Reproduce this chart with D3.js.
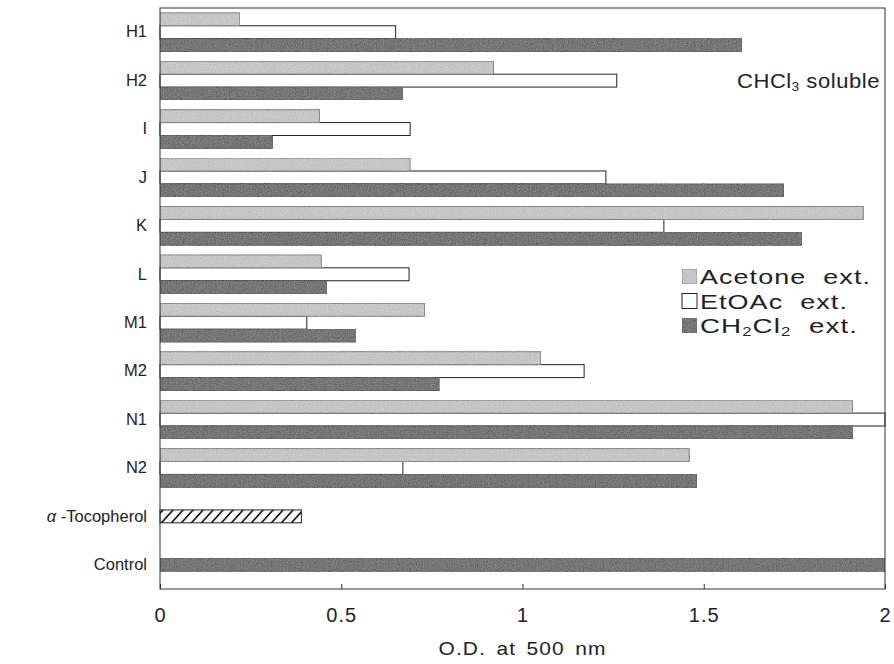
<!DOCTYPE html>
<html>
<head>
<meta charset="utf-8">
<script src="https://cdn.jsdelivr.net/npm/d3@7"></script>
<style>
  body { margin: 0; background: #fff; }
  svg { font-family: "Liberation Sans", Arial, sans-serif; }
</style>
</head>
<body>
<script>
// values (O.D. at 500 nm)
const samples = ["H1", "H2", "I", "J", "K", "L", "M1", "M2", "N1", "N2"];
const acetone = [0.22, 0.92, 0.44, 0.69, 1.94, 0.445, 0.73, 1.05, 1.91, 1.46];
const etoac   = [0.65, 1.26, 0.69, 1.23, 1.39, 0.687, 0.405, 1.17, 2.0, 0.67];
const ch2cl2  = [1.605, 0.67, 0.31, 1.72, 1.77, 0.46, 0.54, 0.77, 1.91, 1.48];
const refs = ["α-Tocopherol", "Control"];
const refValues = [0.39, 2.0];
const ticks = [0, 0.5, 1, 1.5, 2];

const W = 894, H = 664;
const margin = {top: 8, right: 9, bottom: 75, left: 160};
const width = W - margin.left - margin.right;
const height = H - margin.top - margin.bottom;

const svg = d3.select("body").append("svg")
    .attr("width", W)
    .attr("height", H);

const defs = svg.append("defs");

// grainy print texture
const grain = defs.append("filter").attr("id", "grain")
    .attr("x", 0).attr("y", 0).attr("width", 1).attr("height", 1);
grain.append("feTurbulence").attr("type", "fractalNoise")
    .attr("baseFrequency", 0.85).attr("numOctaves", 2).attr("seed", 3).attr("result", "n");
grain.append("feColorMatrix").attr("in", "n").attr("type", "matrix")
    .attr("values", "0.33 0.33 0.33 0 0  0.33 0.33 0.33 0 0  0.33 0.33 0.33 0 0  0 0 0 0 1")
    .attr("result", "g");
grain.append("feComposite").attr("in", "g").attr("in2", "SourceGraphic")
    .attr("operator", "arithmetic")
    .attr("k1", 0).attr("k2", 0.4).attr("k3", 1).attr("k4", -0.2).attr("result", "m");
grain.append("feComposite").attr("in", "m").attr("in2", "SourceGraphic").attr("operator", "in");

const hatch = defs.append("pattern").attr("id", "hatch")
    .attr("patternUnits", "userSpaceOnUse")
    .attr("width", 10).attr("height", 10)
    .attr("patternTransform", "skewX(-42)");
hatch.append("rect").attr("width", 10).attr("height", 10).attr("fill", "#fff");
hatch.append("line").attr("x1", 5).attr("x2", 5).attr("y1", 0).attr("y2", 10)
    .attr("stroke", "#111").attr("stroke-width", 2.2);

const g = svg.append("g").attr("transform", `translate(${margin.left},${margin.top})`);

const x = d3.scaleLinear().domain([0, 2]).range([0, width]);
const y = d3.scaleBand().domain(samples.concat(refs)).range([0, height])
    .paddingInner(0.2).paddingOuter(0.1);
const series = ["acetone", "etoac", "ch2cl2"];
const sub = d3.scaleBand().domain(series).range([0, y.bandwidth()]);

const styles = {
  acetone: {fill: "#c6c6c6", stroke: "#8a8a8a", filter: "url(#grain)"},
  etoac:   {fill: "#fff", stroke: "#222", filter: null},
  ch2cl2:  {fill: "#777", stroke: "#666", filter: "url(#grain)"}
};

const rows = samples.map((s, i) => ({
  name: s,
  acetone: acetone[i], etoac: etoac[i], ch2cl2: ch2cl2[i]
}));

// white EtOAc bars first so the grey bars sit over their shared edges
for (const key of ["etoac", "acetone", "ch2cl2"]) {
  g.append("g").selectAll("rect")
    .data(rows)
    .join("rect")
      .attr("x", x(0))
      .attr("y", d => y(d.name) + sub(key))
      .attr("width", d => x(d[key]) - x(0))
      .attr("height", sub.bandwidth())
      .attr("fill", styles[key].fill)
      .attr("stroke", styles[key].stroke)
      .attr("stroke-width", 1)
      .attr("filter", styles[key].filter);
}

// alpha-tocopherol (hatched) and control (dark)
g.append("g").selectAll("rect")
  .data(refs.map((r, i) => ({name: r, value: refValues[i]})))
  .join("rect")
    .attr("x", x(0))
    .attr("y", d => y(d.name) + sub("etoac"))
    .attr("width", d => x(d.value) - x(0))
    .attr("height", sub.bandwidth())
    .attr("fill", (d, i) => i === 0 ? "url(#hatch)" : styles.ch2cl2.fill)
    .attr("stroke", (d, i) => i === 0 ? "#222" : styles.ch2cl2.stroke)
    .attr("filter", (d, i) => i === 0 ? null : "url(#grain)");

// frame
g.append("rect")
    .attr("x", 0).attr("y", 0)
    .attr("width", width).attr("height", height)
    .attr("fill", "none")
    .attr("stroke", "#333")
    .attr("stroke-width", 1);

// bottom axis: inward ticks
const xAxis = g.append("g").attr("transform", `translate(0,${height})`)
    .call(d3.axisBottom(x).tickValues(ticks).tickSize(-5).tickPadding(19)
      .tickFormat(d => d3.format("")(d)));
xAxis.select(".domain").remove();
xAxis.selectAll("line").attr("stroke", "#333");
xAxis.selectAll("text").attr("font-size", 20).attr("fill", "#222")
    .attr("letter-spacing", 1)
    .attr("font-family", "'Liberation Sans', Arial, sans-serif");

// category labels
const yAxis = g.append("g")
    .call(d3.axisLeft(y).tickSize(0).tickPadding(13));
yAxis.select(".domain").remove();
yAxis.selectAll("text").attr("font-size", 16.5).attr("fill", "#222")
    .attr("font-family", "'Liberation Sans', Arial, sans-serif")
    .each(function(d) {
      if (d === "α-Tocopherol") {
        const t = d3.select(this).text("");
        t.append("tspan").attr("font-style", "italic").text("α");
        t.append("tspan").text(" -Tocopherol");
      }
    });

// wide typeface of the original: stretch glyphs to the measured widths
svg.append("text")
    .attr("x", margin.left + width / 2)
    .attr("y", 655)
    .attr("text-anchor", "middle")
    .attr("font-size", 18.5)
    .attr("fill", "#222")
    .attr("letter-spacing", 1)
    .attr("word-spacing", 3)
    .attr("textLength", 168)
    .attr("lengthAdjust", "spacingAndGlyphs")
    .text("O.D. at 500 nm");

// CHCl3 soluble
const note = g.append("text")
    .attr("x", 577).attr("y", 80)
    .attr("font-size", 20).attr("fill", "#222")
    .attr("letter-spacing", 0.5)
    .attr("textLength", 143)
    .attr("lengthAdjust", "spacingAndGlyphs");
note.append("tspan").text("CHCl");
note.append("tspan").attr("font-size", 12).attr("dy", 3).text("3");
note.append("tspan").attr("dy", -3).text(" soluble");

// legend
const legendItems = [
  {key: "acetone", len: 171, parts: [["Acetone  ext.", 0]]},
  {key: "etoac", len: 148, parts: [["EtOAc  ext.", 0]]},
  {key: "ch2cl2", len: 158, parts: [["CH", 0], ["2", 1], ["Cl", 0], ["2", 1], ["  ext.", 0]]}
];
const legend = g.append("g").attr("transform", "translate(522,261)");
const li = legend.selectAll("g").data(legendItems).join("g")
    .attr("transform", (d, i) => `translate(0,${i * 24.5})`);
li.append("rect")
    .attr("width", 15).attr("height", 15)
    .attr("fill", d => styles[d.key].fill)
    .attr("stroke", d => styles[d.key].stroke)
    .attr("filter", d => styles[d.key].filter);
li.append("text")
    .attr("x", 18).attr("y", 15)
    .attr("font-size", 20).attr("fill", "#222")
    .attr("letter-spacing", 0.8)
    .attr("xml:space", "preserve")
    .attr("textLength", d => d.len)
    .attr("lengthAdjust", "spacingAndGlyphs")
    .each(function(d) {
      const t = d3.select(this);
      let low = 0;
      for (const [s, isSub] of d.parts) {
        const dy = isSub && !low ? 3 : (!isSub && low ? -3 : 0);
        low = isSub;
        t.append("tspan").attr("dy", dy).attr("font-size", isSub ? 12 : 20).text(s);
      }
    });
</script>
</body>
</html>
